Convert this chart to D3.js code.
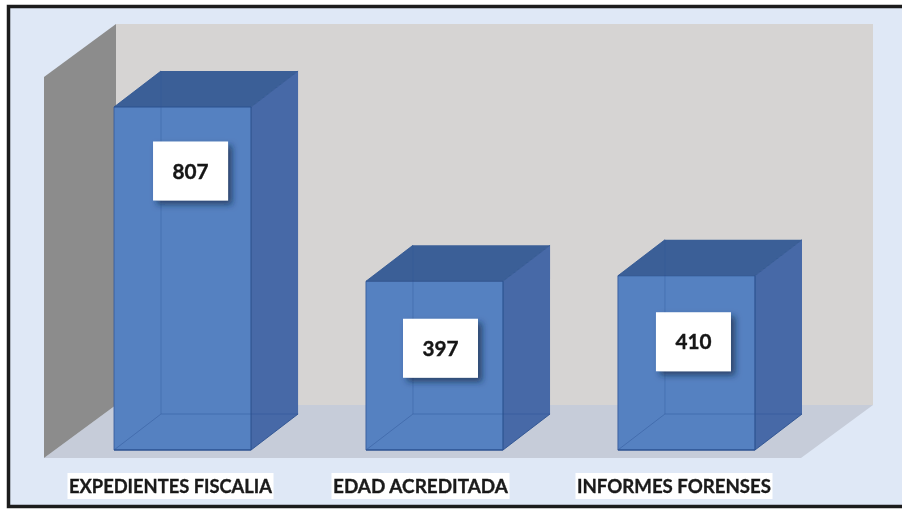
<!DOCTYPE html>
<html><head><meta charset="utf-8">
<script src="https://cdn.jsdelivr.net/npm/d3@7"></script>
<style>html,body{margin:0;padding:0;background:#fff}svg{display:block}</style>
</head><body><div id="c"></div>
<script>
const categories = ["EXPEDIENTES FISCALIA", "EDAD ACREDITADA", "INFORMES FORENSES"];
const values = [807, 397, 410];

const W = 902, H = 509;
const depth = {dx: 47, dy: -36};
const wall = {dx: 72, dy: -53};
const x = d3.scaleBand().domain(categories).range([114, 755]).paddingInner(0.456).paddingOuter(0);
const y = d3.scaleLinear().domain([0, 807]).range([450, 107]);

const svg = d3.select("#c").append("svg").attr("width", W).attr("height", H);
const defs = svg.append("defs");
const f = defs.append("filter").attr("id", "sh").attr("x", "-30%").attr("y", "-30%").attr("width", "170%").attr("height", "170%");
f.append("feDropShadow").attr("dx", 4).attr("dy", 4).attr("stdDeviation", 3).attr("flood-color", "#10203f").attr("flood-opacity", 0.65);
const soft = defs.append("filter").attr("id", "soft");
soft.append("feGaussianBlur").attr("stdDeviation", 0.6);

const root = svg.append("g").attr("filter", "url(#soft)");
const poly = (pts, fill) => root.append("polygon").attr("points", pts.map(d => d.join(",")).join(" ")).attr("fill", fill);

// frame
root.append("rect").attr("x", 8.5).attr("y", 6.5).attr("width", W + 10).attr("height", 500)
  .attr("fill", "#dfe8f6").attr("stroke", "#1b1b1d").attr("stroke-width", 3.5);

// 3D plot box
const bx0 = 44, bx1 = 801, by0 = 458, by1 = 77;
poly([[bx0 + wall.dx, by0 + wall.dy], [bx1 + wall.dx, by0 + wall.dy], [bx1 + wall.dx, by1 + wall.dy], [bx0 + wall.dx, by1 + wall.dy]], "#d6d4d3");
poly([[bx0, by0], [bx0 + wall.dx, by0 + wall.dy], [bx1 + wall.dx, by0 + wall.dy], [bx1, by0]], "#c6ccd9");
poly([[bx0, by0], [bx0 + wall.dx, by0 + wall.dy], [bx0 + wall.dx, by1 + wall.dy], [bx0, by1]], "#8c8c8c");

// bars
const bars = root.selectAll("g.bar").data(categories.map((c, i) => ({c, v: values[i]}))).join("g").attr("class", "bar");
bars.each(function (d) {
  const g = d3.select(this);
  const l = x(d.c), r = l + x.bandwidth(), t = y(d.v), b = y(0);
  const {dx, dy} = depth;
  const pg = (pts, fill) => g.append("polygon").attr("points", pts.map(q => q.join(",")).join(" ")).attr("fill", fill);
  pg([[l, b], [r, b], [r, t], [l, t]], "#5581c1");
  pg([[l, t], [r, t], [r + dx, t + dy], [l + dx, t + dy]], "#3b5f97");
  pg([[r, b], [r + dx, b + dy], [r + dx, t + dy], [r, t]], "#4769a7");
  const ln = (a, c, col, op, w) => g.append("line").attr("x1", a[0]).attr("y1", a[1]).attr("x2", c[0]).attr("y2", c[1])
    .attr("stroke", col).attr("stroke-opacity", op).attr("stroke-width", w);
  // hidden edges seen through the glass
  ln([l, b], [l + dx, b + dy], "#2f5597", 0.45, 1);
  ln([l + dx, b + dy], [r + dx, b + dy], "#2f5597", 0.45, 1);
  ln([l + dx, b + dy], [l + dx, t + dy], "#2f5597", 0.35, 1);
  // visible edges
  ln([l, t], [r, t], "#2c5290", 1, 1.2);
  ln([r, t], [r, b], "#2c5290", 1, 1.2);
  ln([l, t], [l, b], "#2f5597", 0.8, 1);
  ln([l, b], [r, b], "#2c5290", 1, 1.4);
  ln([r, b], [r + dx, b + dy], "#2c5290", 0.9, 1);
  ln([r, t], [r + dx, t + dy], "#2c5290", 0.8, 1);
  ln([l, t], [l + dx, t + dy], "#2c5290", 0.8, 1);
});

// value boxes
const nudgesX = [8, 6, 7];
const nudgesY = [-1, 2, 1];
const boxW = 75, boxH = 59;
const labels = root.selectAll("g.val").data(values).join("g").attr("class", "val")
  .attr("transform", (d, i) => `translate(${x(categories[i]) + x.bandwidth() / 2 + nudgesX[i]},${y(d) + 65 + nudgesY[i]})`);
labels.append("rect").attr("x", -boxW / 2).attr("y", -boxH / 2).attr("width", boxW).attr("height", boxH)
  .attr("fill", "#fff").attr("filter", "url(#sh)");
labels.append("text").attr("text-anchor", "middle").attr("dy", "0.36em")
  .attr("font-family", "Lato, 'Open Sans', sans-serif").attr("font-weight", 700).attr("font-size", 21)
  .attr("textLength", 36).attr("lengthAdjust", "spacingAndGlyphs")
  .attr("stroke", "#151515").attr("stroke-width", 0.4)
  .attr("fill", "#151515").text(d => d);

// category labels
const catCx = [170.5, 420.5, 674];
const catW = [203, 175, 194];
const cats = root.selectAll("g.cat").data(categories).join("g").attr("class", "cat")
  .attr("transform", (d, i) => `translate(${catCx[i]},486)`);
cats.append("rect").attr("x", (d, i) => -catW[i] / 2 - 1.5).attr("width", (d, i) => catW[i] + 3)
  .attr("y", -13).attr("height", 26).attr("fill", "#fff");
cats.append("text").attr("text-anchor", "middle").attr("dy", "0.36em")
  .attr("font-family", "Lato, 'Open Sans', sans-serif").attr("font-weight", 700).attr("font-size", 19)
  .attr("textLength", (d, i) => catW[i]).attr("lengthAdjust", "spacingAndGlyphs")
  .attr("stroke", "#1a1a1a").attr("stroke-width", 0.35)
  .attr("fill", "#1a1a1a").text(d => d);
</script></body></html>
